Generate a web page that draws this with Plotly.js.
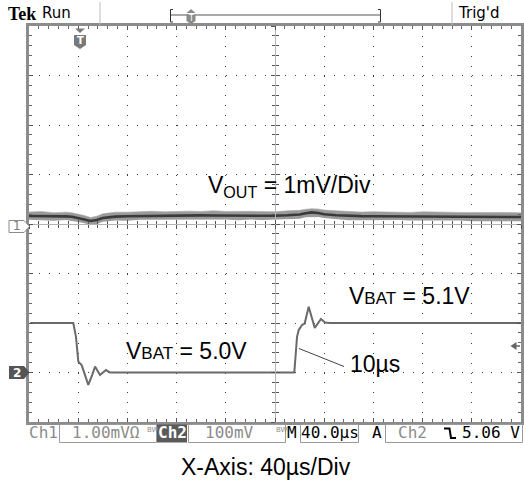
<!DOCTYPE html>
<html>
<head>
<meta charset="utf-8">
<script src="https://cdn.plot.ly/plotly-3.0.1.min.js"></script>
<style>html,body{margin:0;padding:0;background:#fff;}#plot{width:524px;height:483px;}</style>
</head>
<body>
<div id="plot"></div>
<script>
// Ch1 (Vout, AC, 1 mV/div): time in µs (trigger at 0), values in mV
const ch1Time  = [-40,-30,-20,-10,-5,0,5,10,15,20,30,40,50,60,70,80,90,100,110,120,130,140,150,160,170,180,185,190,195,200,210,220,230,240,250,260,270,280,290,300,310,320,330,340,350,360];
const ch1Mid   = [0.162,0.162,0.158,0.154,0.145,0.125,0.091,0.061,0.081,0.121,0.149,0.158,0.162,0.168,0.166,0.172,0.170,0.174,0.172,0.170,0.168,0.166,0.166,0.166,0.176,0.192,0.218,0.234,0.222,0.198,0.176,0.164,0.160,0.158,0.156,0.156,0.154,0.152,0.152,0.149,0.149,0.147,0.145,0.143,0.141,0.141];
const ch1Upper = [0.242,0.252,0.228,0.239,0.225,0.200,0.171,0.131,0.156,0.206,0.239,0.238,0.247,0.258,0.246,0.257,0.260,0.254,0.267,0.255,0.248,0.256,0.251,0.246,0.266,0.277,0.298,0.309,0.302,0.283,0.266,0.249,0.240,0.248,0.241,0.246,0.234,0.247,0.237,0.239,0.234,0.237,0.225,0.238,0.231,0.226];
const ch1Lower = [0.087,0.082,0.068,0.079,0.065,0.040,0.016,-0.019,-0.004,0.046,0.069,0.068,0.087,0.088,0.081,0.082,0.090,0.099,0.087,0.090,0.078,0.091,0.081,0.086,0.101,0.107,0.138,0.144,0.142,0.123,0.096,0.074,0.075,0.078,0.066,0.081,0.069,0.072,0.062,0.064,0.069,0.057,0.060,0.063,0.051,0.056];
// Ch2 (Vbat, 100 mV/div): time in µs, values in V
const ch2Time  = [-39,-4.0,-1.8,0.1,2.8,5.5,8.2,10.8,13.7,17.7,20.2,22.6,25.9,175.7,177.9,179.3,182.0,184.1,187.4,192.3,197.4,200.7,204.7,360];
const ch2Volts = [5.10,5.10,5.072,5.022,5.015,4.995,4.975,4.991,5.012,4.995,5.001,5.005,5.000,5.000,5.072,5.086,5.096,5.099,5.133,5.090,5.108,5.101,5.100,5.100];
// Labels
const labelVout = "V<sub>OUT</sub> = 1mV/Div";
const labelHigh = "V<span style='font-size:17px'>BAT</span> = 5.1V";
const labelLow  = "V<span style='font-size:17px'>BAT</span> = 5.0V";
const labelRise = "10µs";
const caption   = "X-Axis: 40µs/Div";
const statusTop = ["Tek", "Run", "Trig'd"];
const statusBottom = ["Ch1", "1.00mVΩ", "Ch2", "100mV", "M", "40.0µs", "A", "Ch2", "5.06 V", "BW"];

// ---- Geometry helpers (pixel -> paper) ----
const L = 29, R = 521, T = 26, B = 422;
const X = p => (p - L) / (R - L);
const Y = p => (B - p) / (B - T);
// cmds: [['M',x,y],['L',x,y],...,['Z']] in pixels
const P = cmds => cmds.map(c => c.length === 3 ? c[0] + X(c[1]).toFixed(5) + ',' + Y(c[2]).toFixed(5) : c[0]).join(' ');

const traces = [
  {x: ch1Time, y: ch1Lower, mode: 'lines', line: {width: 0, color: '#999'}, hoverinfo: 'skip', showlegend: false},
  {x: ch1Time, y: ch1Upper, mode: 'lines', fill: 'tonexty', fillcolor: '#9a9a9a', line: {width: 0.6, color: '#aaa'}, hoverinfo: 'skip', showlegend: false},
  {x: ch1Time, y: ch1Mid, mode: 'lines', line: {width: 2.6, color: '#3a3a3a'}, showlegend: false},
  {x: ch2Time, y: ch2Volts, yaxis: 'y2', mode: 'lines', line: {width: 2, color: '#6a6a6a'}, showlegend: false},
  {x: [], y: [], xaxis: 'x3', showlegend: false},
  {x: [], y: [], xaxis: 'x4', showlegend: false},
  {x: [], y: [], yaxis: 'y3', showlegend: false},
  {x: [], y: [], yaxis: 'y4', showlegend: false}
];

const xr = [-40, 360], yr = [-4, 4];
const borderCol = '#8c8c8c';
const base = {showticklabels: false, zeroline: false, fixedrange: true};

const cross = (extra) => Object.assign({}, base, {
  showgrid: false, showline: true, linecolor: '#b4b4b4', linewidth: 1,
  ticklen: 4, tickcolor: '#555', tickwidth: 1
}, extra);

const layout = {
  width: 524, height: 483,
  margin: {l: L, r: 524 - R, t: T, b: 483 - B, pad: 0},
  paper_bgcolor: '#fff', plot_bgcolor: '#fff',
  font: {family: 'Liberation Sans, Arial, sans-serif', color: '#000'},
  xaxis: Object.assign({}, base, {
    range: xr, tick0: 0, dtick: 40, showgrid: true, gridcolor: '#3c3c3c', gridwidth: 1, griddash: '1px,8.9px',
    showline: true, linecolor: borderCol, linewidth: 3, mirror: 'ticks',
    ticks: 'inside', ticklen: 4, tickcolor: '#555', tickwidth: 1,
    minor: {tick0: 0, dtick: 8, ticks: 'inside', ticklen: 3, tickcolor: '#666', showgrid: false}
  }),
  yaxis: Object.assign({}, base, {
    range: yr, tick0: 0, dtick: 1, showgrid: true, gridcolor: '#3c3c3c', gridwidth: 1, griddash: '1px,8.84px',
    showline: true, linecolor: borderCol, linewidth: 3, mirror: 'ticks',
    ticks: 'inside', ticklen: 4, tickcolor: '#555', tickwidth: 1,
    minor: {tick0: 0, dtick: 0.2, ticks: 'inside', ticklen: 3, tickcolor: '#666', showgrid: false}
  }),
  yaxis2: Object.assign({}, base, {range: [4.9, 5.7], overlaying: 'y', showgrid: false, showline: false, ticks: '', visible: false}),
  xaxis3: cross({range: xr, overlaying: 'x', anchor: 'free', position: 0.5, tick0: 0, dtick: 40, ticks: 'inside',
    minor: {tick0: 0, dtick: 8, ticks: 'inside', ticklen: 3, tickcolor: '#555'}}),
  xaxis4: cross({range: xr, overlaying: 'x', anchor: 'free', position: 0.5, tick0: 0, dtick: 40, ticks: 'outside',
    minor: {tick0: 0, dtick: 8, ticks: 'outside', ticklen: 3, tickcolor: '#555'}}),
  yaxis3: cross({range: yr, overlaying: 'y', anchor: 'free', position: 0.5, tick0: 0, dtick: 1, ticks: 'inside',
    minor: {tick0: 0, dtick: 0.2, ticks: 'inside', ticklen: 3, tickcolor: '#555'}}),
  yaxis4: cross({range: yr, overlaying: 'y', anchor: 'free', position: 0.5, tick0: 0, dtick: 1, ticks: 'outside',
    minor: {tick0: 0, dtick: 0.2, ticks: 'outside', ticklen: 3, tickcolor: '#555'}}),
  shapes: [],
  annotations: []
};

const S = layout.shapes, A = layout.annotations;
const line = (x0, y0, x1, y1, color, w) => S.push({type: 'line', xref: 'paper', yref: 'paper', x0: X(x0), y0: Y(y0), x1: X(x1), y1: Y(y1), line: {color: color, width: w}, layer: 'above'});
const rect = (x0, y0, x1, y1, lc, fc) => S.push({type: 'rect', xref: 'paper', yref: 'paper', x0: X(x0), y0: Y(y0), x1: X(x1), y1: Y(y1), line: {color: lc || 'rgba(0,0,0,0)', width: lc ? 1 : 0}, fillcolor: fc || 'rgba(0,0,0,0)', layer: 'above'});
const path = (cmds, lc, fc, w) => S.push({type: 'path', xref: 'paper', yref: 'paper', path: P(cmds), line: {color: lc || 'rgba(0,0,0,0)', width: w || (lc ? 1 : 0)}, fillcolor: fc || 'rgba(0,0,0,0)', layer: 'above'});
const text = (t, x, y, o) => A.push(Object.assign({text: t, xref: 'paper', yref: 'paper', x: X(x), y: Y(y), xanchor: 'left', yanchor: 'middle', showarrow: false, borderpad: 0,
  font: {family: 'Liberation Sans, Arial, sans-serif', size: 23, color: '#000'}}, o || {}));

// top status bar
line(100, 2, 100, 25, '#bdbdbd', 1);
line(452, 2, 452, 25, '#bdbdbd', 1);
line(171, 15, 380, 15, '#555', 1);
path([['M', 173, 9.5], ['L', 170.5, 9.5], ['L', 170.5, 22], ['L', 173, 22]], '#333', null, 1);
path([['M', 378, 9.5], ['L', 380.5, 9.5], ['L', 380.5, 22], ['L', 378, 22]], '#333', null, 1);
path([['M', 186.5, 13], ['L', 195.5, 13], ['L', 191, 9], ['Z']], null, '#8a8a8a');
path([['M', 186.5, 14], ['L', 195.5, 14], ['L', 195.5, 21], ['L', 191, 24], ['L', 186.5, 21], ['Z']], null, '#8a8a8a');
text('T', 191, 18.5, {xanchor: 'center', font: {family: 'DejaVu Sans', size: 8, color: '#fff'}});
text('<b>' + statusTop[0] + '</b>', 7, 14, {font: {family: 'Liberation Serif, serif', size: 18, color: '#000'}});
text(statusTop[1], 41, 13, {font: {family: 'DejaVu Sans, sans-serif', size: 15, color: '#000'}});
text(statusTop[2], 457, 13, {font: {family: 'DejaVu Sans, sans-serif', size: 15, color: '#000'}});

// trigger-position marker inside the graticule
path([['M', 75, 28.5], ['L', 85, 28.5], ['L', 80, 33], ['Z']], null, '#7a7a7a');
path([['M', 74, 35], ['L', 86, 35], ['L', 86, 45], ['L', 80, 49], ['L', 74, 45], ['Z']], null, '#7a7a7a');
text('<b>T</b>', 80, 40.5, {xanchor: 'center', font: {family: 'DejaVu Sans', size: 10, color: '#fff'}});

// channel markers
path([['M', 9, 220.5], ['L', 24, 220.5], ['L', 29.5, 226.5], ['L', 24, 232.5], ['L', 9, 232.5], ['Z']], '#8a8a8a', '#fff', 1);
text('1', 16.5, 226.5, {xanchor: 'center', font: {family: 'DejaVu Sans', size: 12, color: '#7a7a7a'}});
path([['M', 9, 366], ['L', 24, 366], ['L', 29.5, 372.5], ['L', 24, 379], ['L', 9, 379], ['Z']], null, '#555');
text('<b>2</b>', 16.5, 372.5, {xanchor: 'center', font: {family: 'DejaVu Sans', size: 12, color: '#fff'}});
// trigger level arrow (right)
path([['M', 510.5, 346], ['L', 516.5, 342], ['L', 516.5, 350], ['Z']], null, '#666');
line(516, 346, 520, 346, '#666', 1.5);

// annotations on traces
text(labelVout, 207, 186);
text(labelHigh, 348, 296);
text(labelLow, 125, 351);
text(labelRise, 349, 363.5);
line(299, 348.5, 344, 366.5, '#444', 1);

// bottom status bar
const mono = (c) => ({family: 'DejaVu Sans Mono, monospace', size: 16, color: c});
rect(59.5, 424.5, 156.5, 442.5, '#9a9a9a');
rect(157, 424.5, 187, 442.5, null, '#5a5a5a');
rect(188.5, 424.5, 285.5, 442.5, '#9a9a9a');
rect(300.5, 424.5, 358.5, 442.5, '#9a9a9a');
rect(385.5, 424.5, 522.5, 442.5, '#9a9a9a');
text(statusBottom[0], 28, 433, {font: mono('#8c8c8c')});
text(statusBottom[1], 71, 433, {font: mono('#8c8c8c')});
text(statusBottom[9], 146, 430, {font: {family: 'DejaVu Sans', size: 7, color: '#8c8c8c'}});
text('<b>' + statusBottom[2] + '</b>', 172, 433, {xanchor: 'center', font: mono('#fff')});
text(statusBottom[3], 204, 433, {font: mono('#8c8c8c')});
text(statusBottom[9], 275, 430, {font: {family: 'DejaVu Sans', size: 7, color: '#8c8c8c'}});
text(statusBottom[4], 286, 433, {font: mono('#000')});
text(statusBottom[5], 329.5, 433, {xanchor: 'center', font: mono('#000')});
text(statusBottom[6], 371, 433, {font: mono('#000')});
text(statusBottom[7], 397, 433, {font: mono('#8c8c8c')});
path([['M', 444, 428.5], ['L', 449.5, 428.5], ['L', 451, 438], ['L', 456, 438]], '#000', null, 2);
text(statusBottom[8], 521, 433, {xanchor: 'right', font: mono('#000')});

// caption
text(caption, 266, 467, {xanchor: 'center', font: {family: 'Liberation Sans, Arial, sans-serif', size: 23, color: '#000'}});

Plotly.newPlot('plot', traces, layout, {displayModeBar: false, staticPlot: true});
</script>
</body>
</html>
